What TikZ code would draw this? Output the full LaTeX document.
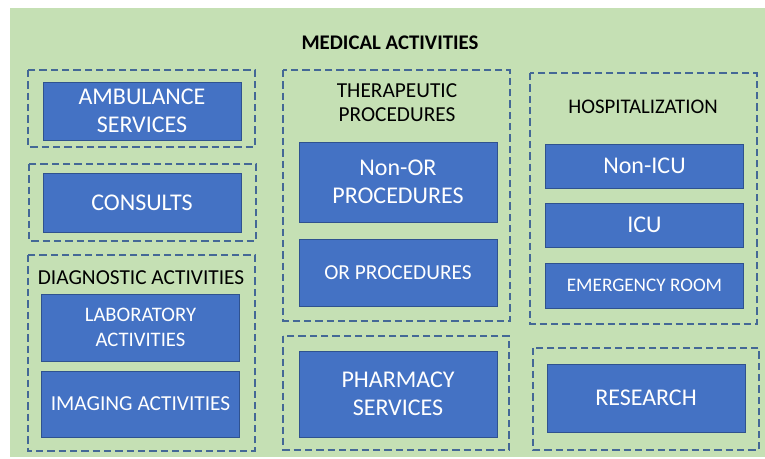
\documentclass[tikz,border=0pt]{standalone}
\usepackage{fontspec}
\setmainfont{Carlito}
\definecolor{bgGreen}{HTML}{C5E0B4}
\definecolor{boxBlue}{HTML}{4472C4}
\definecolor{boxEdge}{HTML}{2F528F}
\definecolor{grpEdge}{RGB}{68,104,150}
\begin{document}
\begin{tikzpicture}[
    x=0.75pt, y=-0.75pt,
    blk/.style={draw=boxEdge, line width=0.6pt, fill=boxBlue, text=white,
      minimum width=148.5pt, minimum height=#1*0.75pt, inner sep=0pt,
      align=center, font=\fontsize{18}{21}\selectfont},
    grp/.style={draw=grpEdge, line width=1.4pt, dash pattern=on 5.5pt off 3pt},
    lbl/.style={align=center, font=\fontsize{16}{18}\selectfont}]
    % Background
    \useasboundingbox (0,0) rectangle (765,459);
    \fill[bgGreen] (10,8) rectangle (765,457);
    \node[font=\fontsize{15.6}{18}\selectfont\bfseries] (title) at (390,43) {MEDICAL ACTIVITIES};

    % Dashed groups
    \draw[grp] (28,70) rectangle (255,147);
    \draw[grp] (29,164) rectangle (256,241);
    \draw[grp] (28,255) rectangle (255,451);
    \draw[grp] (283,70) rectangle (510,321);
    \draw[grp] (530,73) rectangle (757,324);
    \draw[grp] (283,336) rectangle (509,450);
    \draw[grp] (533,348) rectangle (759,450);

    % Left column
    \node[blk=58] (amb) at (142,111) {AMBULANCE\\SERVICES};
    \node[blk=59] (cons) at (142,202.5) {CONSULTS};
    \node[lbl] (diag) at (141,278) {DIAGNOSTIC ACTIVITIES};
    \node[blk=67, font=\fontsize{15.5}{19}\selectfont] (lab) at (140.5,327.5) {LABORATORY\\ACTIVITIES};
    \node[blk=66, font=\fontsize{16}{19}\selectfont] (img) at (140.5,404) {IMAGING ACTIVITIES};

    % Middle column
    \node[lbl] (ther) at (397,103) {THERAPEUTIC\\PROCEDURES};
    \node[blk=80] (nonor) at (398,182) {Non-OR\\PROCEDURES};
    \node[blk=67, font=\fontsize{16}{19}\selectfont] (orproc) at (398,272.5) {OR PROCEDURES};
    \node[blk=86] (pharm) at (398,394) {PHARMACY\\SERVICES};

    % Right column
    \node[lbl, font=\fontsize{15.6}{18}\selectfont] (hosp) at (643,107) {HOSPITALIZATION};
    \node[blk=44] (nonicu) at (644.5,166) {Non-ICU};
    \node[blk=44] (icu) at (644.5,225) {ICU};
    \node[blk=45, font=\fontsize{14.4}{17}\selectfont] (er) at (644.5,285.5) {EMERGENCY ROOM};
    \node[blk=68] (res) at (646,398) {RESEARCH};
\end{tikzpicture}
\end{document}
